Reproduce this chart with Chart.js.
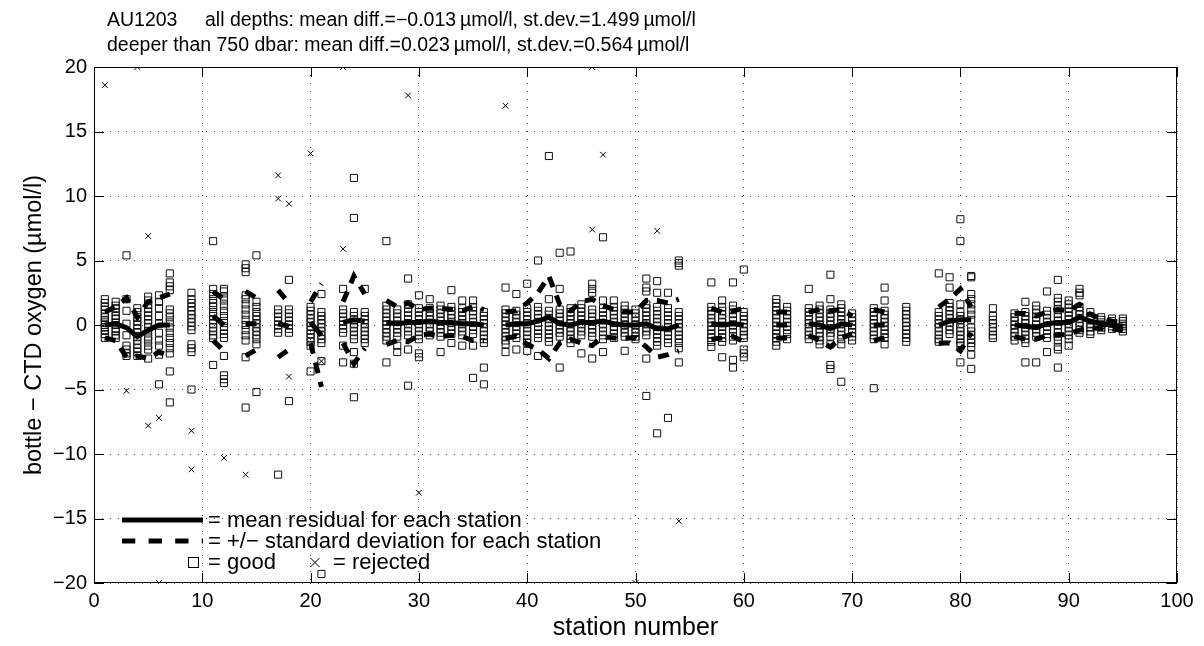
<!DOCTYPE html>
<html><head><meta charset="utf-8">
<style>html,body{margin:0;padding:0;background:#fff}canvas{display:block}</style>
<script src="https://cdn.jsdelivr.net/npm/chart.js@4.4.0/dist/chart.umd.min.js"></script>
</head><body>
<canvas id="c" width="1204" height="646"></canvas>
<script>
// ---- data ----
const stations = [1,2,3,4,5,6,7,9,11,12,14,15,17,18,20,21,23,24,25,27,28,29,30,31,32,33,34,35,36,38,39,40,41,42,43,44,45,46,47,48,49,50,51,52,53,54,57,58,59,60,63,64,66,67,68,69,70,72,73,75,78,79,80,81,83,85,86,87,88,89,90,91,92,93,94,95];
const meanResidual = [0.0,0.1,-0.2,-0.9,-0.4,0.0,0.0,-0.1,0.7,0.0,0.1,0.1,0.1,-0.1,0.2,-0.8,0.2,0.4,0.3,0.2,0.1,0.2,0.2,0.3,0.2,0.2,0.1,0.1,0.0,0.0,0.1,0.1,0.3,0.6,0.1,0.0,0.2,0.2,0.3,0.1,0.0,0.0,0.1,-0.3,-0.3,0.0,0.1,0.0,0.1,0.0,0.0,0.0,0.1,0.0,-0.3,0.1,0.0,0.0,0.0,0.0,0.0,0.3,0.4,0.4,0.0,0.0,-0.1,-0.2,0.1,0.2,0.2,0.6,0.3,0.1,0.0,-0.1];
const stdDev = [1.0,1.3,2.3,1.5,2.2,2.1,2.4,1.9,1.9,2.0,2.5,2.0,2.6,1.8,1.6,4.0,1.6,3.4,2.1,1.7,1.3,1.5,1.0,1.0,1.1,1.0,1.0,1.3,1.2,1.0,1.0,1.6,2.2,3.2,1.5,1.1,1.6,1.8,1.2,1.1,1.0,1.0,1.8,2.2,2.0,2.0,1.2,1.0,1.0,1.3,1.0,1.0,0.9,1.2,1.4,1.1,0.7,1.2,1.0,0.9,1.4,1.7,2.4,1.0,0.8,0.9,1.0,0.9,0.9,1.0,0.9,1.0,0.5,0.4,0.3,0.3];
const goodValues = [
 [2.0,1.7,1.4,1.2,0.9,0.6,0.4,0.2,0.0,-0.2,-0.4,-0.7,-1.0],
 [1.8,1.5,1.3,1.0,0.7,0.5,0.2,0.0,-0.3,-0.5,-0.8,-1.0],
 [5.4,2.0,1.1,0.1,-0.8,-1.6,-1.9,-2.2,-2.4],
 [1.3,1.0,0.6,0.3,0.0,-0.3,-0.6,-0.9,-1.2,-1.5,-1.8,-2.1,-2.4],
 [2.2,1.9,1.6,1.3,1.0,0.7,0.4,0.1,-0.2,-0.5,-0.9,-1.2,-1.6,-1.9,-2.6],
 [2.3,1.8,1.3,0.7,0.1,-0.6,-1.2,-1.6,-2.3,-4.6],
 [4.0,3.3,3.0,2.7,1.2,0.9,0.6,0.2,-0.2,-0.6,-1.0,-1.4,-1.8,-2.2,-3.6,-6.0],
 [2.5,2.0,1.7,1.4,1.1,0.8,0.5,0.2,-0.1,-0.4,-1.5,-1.8,-2.1,-5.0],
 [6.5,2.8,2.4,2.0,1.7,1.4,1.0,0.7,0.4,0.1,-0.2,-0.5,-0.8,-1.0,-3.1],
 [2.8,2.6,2.2,1.9,1.5,1.1,0.7,0.3,-0.1,-0.4,-0.7,-1.0,-2.4,-3.9,-4.2,-4.5],
 [4.7,4.4,4.1,2.3,2.0,1.6,1.2,0.8,0.4,0.0,-0.4,-0.8,-1.2,-2.5,-6.4],
 [5.4,1.8,1.4,1.0,0.7,0.4,0.1,-0.2,-0.5,-0.8,-1.1,-1.5,-5.2],
 [1.2,0.9,0.6,0.3,0.0,-0.3,-0.6,-11.6],
 [3.5,1.2,0.9,0.6,0.3,0.0,-0.3,-0.6,-5.9],
 [1.4,1.1,0.8,0.5,0.2,-0.1,-0.4,-0.7,-1.0,-1.3,-1.6,-3.6],
 [2.4,1.0,0.7,0.4,0.1,-0.2,-0.5,-0.8,-1.1,-1.4,-2.8,-19.3],
 [2.8,1.2,0.9,0.6,0.3,0.0,-0.3,-0.6,-1.6,-2.9],
 [11.4,8.3,1.0,0.7,0.4,0.1,-0.2,-0.5,-0.8,-1.1,-2.1,-3.0,-5.6],
 [2.8,1.0,0.7,0.4,0.1,-0.2,-0.5,-0.8,-1.1,-1.4],
 [6.5,1.5,1.2,0.9,0.6,0.3,0.0,-0.3,-0.6,-0.9,-1.2,-2.9],
 [1.2,0.9,0.6,0.3,0.0,-0.3,-0.6,-0.9,-1.6,-2.1],
 [3.6,1.6,1.3,1.0,0.7,0.4,0.1,-0.2,-0.5,-0.8,-1.9,-4.7],
 [2.3,1.3,1.0,0.7,0.4,0.1,-0.2,-0.5,-0.8,-1.1,-2.2,-2.5],
 [2.0,1.3,1.0,0.7,0.4,0.1,-0.2,-0.5,-0.8],
 [1.5,1.2,0.9,0.6,0.3,0.0,-0.3,-0.6,-0.9,-2.1],
 [2.7,1.4,1.1,0.8,0.5,0.2,-0.1,-0.4,-0.7,-1.4],
 [1.9,1.3,1.0,0.7,0.4,0.1,-0.2,-0.5,-0.8,-1.6],
 [1.9,1.4,1.1,0.8,0.5,0.2,-0.1,-0.4,-0.7,-1.6,-4.1],
 [1.0,0.7,0.4,0.1,-0.2,-0.5,-0.8,-1.1,-1.4,-3.3,-4.6],
 [2.9,1.2,0.9,0.6,0.3,0.0,-0.3,-0.6,-0.9,-1.2,-1.5,-2.1],
 [2.4,1.1,0.8,0.5,0.2,-0.1,-0.4,-0.7,-1.0,-1.9],
 [3.2,1.3,1.0,0.7,0.4,0.1,-0.2,-0.5,-0.8,-1.1,-1.4,-2.0],
 [5.0,1.4,1.1,0.8,0.5,0.2,-0.1,-0.4,-0.7,-1.0,-2.4],
 [13.1,2.0,1.1,0.8,0.5,0.2,-0.1,-0.4,-0.7,-1.0,-1.3],
 [5.6,2.8,1.2,0.9,0.6,0.3,0.0,-0.3,-0.6,-0.9,-3.3],
 [5.7,1.3,1.0,0.7,0.4,0.1,-0.2,-0.5,-0.8,-1.1,-1.4],
 [1.6,1.3,1.0,0.7,0.4,0.1,-0.2,-0.5,-0.8,-2.2],
 [3.2,2.8,2.5,1.2,0.9,0.6,0.3,0.0,-0.3,-0.6,-0.9,-2.6],
 [6.8,1.9,1.3,1.0,0.7,0.4,0.1,-0.2,-0.5,-0.8,-1.1,-2.1],
 [1.9,1.4,1.1,0.8,0.5,0.2,-0.1,-0.4,-0.7,-1.0],
 [1.5,1.2,0.9,0.6,0.3,0.0,-0.3,-0.6,-0.9,-2.0],
 [1.2,0.9,0.6,0.3,0.0,-0.3,-0.6,-0.9,-1.1],
 [3.6,2.9,2.6,1.6,1.3,1.0,0.7,0.4,0.1,-0.2,-0.5,-0.8,-2.6,-5.5],
 [3.4,2.5,1.4,1.1,0.8,0.5,0.2,-0.1,-0.4,-0.7,-1.0,-1.3,-1.6,-8.4],
 [2.5,1.3,1.0,0.7,0.4,0.1,-0.2,-0.5,-0.8,-1.1,-1.4,-7.2],
 [5.0,4.8,4.6,1.0,0.7,0.4,0.1,-0.2,-0.5,-0.8,-1.1,-1.4,-1.8,-2.9],
 [3.3,1.4,1.1,0.8,0.5,0.2,-0.1,-0.4,-0.7,-1.0,-1.3,-1.7],
 [1.9,1.4,1.1,0.8,0.5,0.2,-0.1,-0.4,-0.7,-1.0,-1.3,-2.5],
 [3.3,1.5,1.2,0.9,0.6,0.3,0.0,-0.3,-0.6,-0.9,-1.2,-2.7,-3.3],
 [4.3,1.0,0.7,0.4,0.1,-0.2,-0.5,-0.8,-1.0,-1.9,-2.2,-2.5],
 [2.0,1.7,1.4,1.1,0.8,0.5,0.2,-0.1,-0.4,-0.7,-1.0,-1.3,-1.6],
 [1.4,1.1,0.8,0.5,0.2,-0.1,-0.4,-0.7,-1.1],
 [2.8,1.3,1.0,0.7,0.4,0.1,-0.2,-0.5,-0.8,-1.1],
 [1.5,1.2,0.9,0.6,0.3,0.0,-0.3,-0.6,-0.9,-1.2,-1.5],
 [3.9,2.0,1.2,0.9,0.6,0.3,0.0,-0.3,-0.6,-0.9,-1.5,-3.1,-3.4],
 [1.6,1.3,1.0,0.7,0.4,0.1,-0.2,-0.5,-0.8,-1.1,-1.5,-4.4],
 [0.9,0.6,0.3,0.0,-0.3,-0.6,-0.9,-1.2],
 [1.3,1.0,0.7,0.4,0.1,-0.2,-0.5,-0.8,-1.1,-4.9],
 [2.9,1.9,1.1,0.8,0.5,0.2,-0.1,-0.4,-0.7,-1.0,-1.5],
 [1.4,1.1,0.8,0.5,0.2,-0.1,-0.4,-0.7,-1.0,-1.3],
 [4.0,1.0,0.7,0.4,0.1,-0.2,-0.5,-0.8,-1.1,-1.3],
 [3.7,2.9,1.7,1.4,1.1,0.8,0.5,0.2,-0.1,-0.4,-0.7],
 [8.2,6.5,1.6,1.0,0.7,0.4,0.1,-0.2,-0.5,-0.8,-1.1,-1.4,-1.6,-2.9],
 [3.8,3.7,2.4,2.0,1.6,1.2,0.8,0.4,-0.2,-0.5,-0.8,-1.1,-1.4,-1.7,-2.3,-3.4],
 [1.3,0.7,0.4,0.1,-0.2,-0.5,-0.8,-1.0],
 [0.9,0.6,0.3,0.0,-0.3,-0.6,-0.9,-1.2],
 [1.8,1.0,0.7,0.4,0.1,-0.2,-0.5,-0.8,-1.1,-1.4,-2.9],
 [1.5,1.2,0.9,0.6,0.3,0.0,-0.3,-0.6,-0.9,-2.9],
 [2.6,1.1,0.8,0.5,0.2,-0.1,-0.4,-0.7,-1.0,-2.1],
 [3.5,2.1,1.8,1.5,1.2,0.9,0.6,0.3,0.0,-0.3,-0.6,-0.9,-1.2,-1.7,-1.9,-3.3],
 [1.9,1.6,1.3,1.0,0.7,0.4,0.1,-0.2,-0.5,-0.8,-1.1,-1.6],
 [2.8,2.5,2.3,1.4,1.1,0.8,0.5,0.2,-0.1,-0.4,-0.6],
 [1.0,0.7,0.4,0.1,-0.2,-0.5,-0.7],
 [0.6,0.4,0.2,0.0,-0.2,-0.4],
 [0.5,0.3,0.1,-0.1,-0.3],
 [0.5,0.3,0.1,-0.1,-0.3,-0.5]
];
const rejectedStations = [1,4,3,5,5,6,6,9,9,12,14,17,17,18,18,20,21,23,23,29,30,38,46,46,47,50,52,54];
const rejectedValues = [18.6,20,-5.1,6.9,-7.8,-7.2,-20,-8.2,-11.2,-10.3,-11.6,11.6,9.8,9.4,-4.0,13.3,-2.8,20,5.9,17.8,-13.0,17.0,20,7.4,13.2,-20,7.3,-15.2];
const xTicks = [0,10,20,30,40,50,60,70,80,90,100];
const yTicks = [-20,-15,-10,-5,0,5,10,15,20];
const titleLine1a = 'AU1203';
const titleLine1b = 'all depths: mean diff.=\u22120.013\u2009\u00b5mol/l, st.dev.=1.499\u2009\u00b5mol/l';
const titleLine2 = 'deeper than 750 dbar: mean diff.=0.023\u2009\u00b5mol/l, st.dev.=0.564\u2009\u00b5mol/l';
const xLabel = 'station number';
const yLabel = 'bottle \u2212 CTD oxygen (\u00b5mol/l)';
const legendTexts = ['= mean residual for each station','= +/\u2212 standard deviation for each station','= good','= rejected'];

// ---- build ----
const FONT = '"Liberation Sans", Arial, Helvetica, sans-serif';
const goodPts = [];
stations.forEach((s,i)=>goodValues[i].forEach(v=>goodPts.push({x:s,y:v})));
const rejPts = rejectedStations.map((s,i)=>({x:s,y:rejectedValues[i]}));
function lineData(fn){
  const arr=[];
  stations.forEach((s,i)=>{
    if(i>0 && s-stations[i-1]>1) arr.push({x:s-0.5,y:null});
    arr.push({x:s,y:fn(i)});
  });
  return arr;
}
const meanPts = lineData(i=>meanResidual[i]);
const upPts = lineData(i=>+(meanResidual[i]+stdDev[i]).toFixed(2));
const loPts = lineData(i=>+(meanResidual[i]-stdDev[i]).toFixed(2));

const fmt = v => String(v).replace('-','\u2212');

const framePlugin = {
  id:'frame',
  afterDatasetsDraw(chart){
    const {ctx, chartArea:{left,right,top,bottom}, scales:{x,y}} = chart;
    ctx.save();
    ctx.strokeStyle='#000'; ctx.lineWidth=1; ctx.setLineDash([]);
    ctx.strokeRect(left+0.5, top+0.5, right-left-1, bottom-top-1);
    ctx.beginPath();
    xTicks.forEach(v=>{const p=Math.round(x.getPixelForValue(v))+0.5;
      ctx.moveTo(p,bottom); ctx.lineTo(p,bottom-10); ctx.moveTo(p,top); ctx.lineTo(p,top+10);});
    yTicks.forEach(v=>{const p=Math.round(y.getPixelForValue(v))+0.5;
      ctx.moveTo(left,p); ctx.lineTo(left+10,p); ctx.moveTo(right,p); ctx.lineTo(right-10,p);});
    ctx.stroke();
    ctx.restore();
  },
  afterDraw(chart){
    const {ctx, chartArea:{left,right,top,bottom}} = chart;
    ctx.save();
    ctx.fillStyle='#000'; ctx.textBaseline='middle';
    ctx.font='19.5px '+FONT; ctx.textAlign='left';
    ctx.fillText(titleLine1a,107,21);
    ctx.fillText(titleLine1b,205,21);
    ctx.fillText(titleLine2,107,46);
    ctx.font='25px '+FONT; ctx.textAlign='center';
    ctx.fillText(xLabel,(left+right)/2,628);
    ctx.font='23.5px '+FONT;
    ctx.save(); ctx.translate(35,(top+bottom)/2); ctx.rotate(-Math.PI/2);
    ctx.fillText(yLabel,0,0); ctx.restore();
    // legend
    ctx.strokeStyle='#000';
    ctx.lineWidth=5; ctx.setLineDash([]);
    ctx.beginPath(); ctx.moveTo(122,520); ctx.lineTo(203,520); ctx.stroke();
    ctx.setLineDash([13.3,13.3]);
    ctx.beginPath(); ctx.moveTo(122,541); ctx.lineTo(203,541); ctx.stroke();
    ctx.setLineDash([]); ctx.lineWidth=1;
    ctx.strokeRect(188.5,557.5,10,10);
    ctx.beginPath(); ctx.moveTo(310.5,558); ctx.lineTo(319.5,567); ctx.moveTo(319.5,558); ctx.lineTo(310.5,567); ctx.stroke();
    ctx.font='22px '+FONT; ctx.textAlign='left';
    ctx.fillText(legendTexts[0],208,521);
    ctx.fillText(legendTexts[1],208,542);
    ctx.fillText(legendTexts[2],208,563);
    ctx.fillText(legendTexts[3],333,563);
    ctx.restore();
  }
};

new Chart(document.getElementById('c'), {
  type:'scatter',
  data:{datasets:[
    {type:'line',data:meanPts,borderColor:'#000',borderWidth:5,pointRadius:0,spanGaps:false,fill:false,tension:0,order:0,borderCapStyle:'butt'},
    {type:'line',data:upPts,borderColor:'#000',borderWidth:5,borderDash:[11,9],pointRadius:0,spanGaps:false,fill:false,tension:0,order:0,borderCapStyle:'butt'},
    {type:'line',data:loPts,borderColor:'#000',borderWidth:5,borderDash:[11,9],pointRadius:0,spanGaps:false,fill:false,tension:0,order:0,borderCapStyle:'butt'},
    {data:goodPts,pointStyle:'rect',pointRadius:5,borderColor:'#111',borderWidth:1,backgroundColor:'rgba(0,0,0,0)',order:1},
    {data:rejPts,pointStyle:'crossRot',pointRadius:4,borderColor:'#000',borderWidth:1,backgroundColor:'rgba(0,0,0,0)',order:1}
  ]},
  options:{
    responsive:false, animation:false, devicePixelRatio:1,
    layout:{padding:{top:67,right:27,left:0,bottom:0}},
    plugins:{legend:{display:false},tooltip:{enabled:false}},
    events:[],
    scales:{
      x:{type:'linear',min:0,max:100,
         afterFit(s){s.height=63;},
         afterBuildTicks(s){s.ticks=xTicks.map(v=>({value:v}));},
         ticks:{color:'#000',font:{size:20,family:FONT},padding:6,maxRotation:0,callback:fmt},
         grid:{color:'#444',lineWidth:1,drawTicks:false},
         border:{display:false,dash:[1,7]}},
      y:{type:'linear',min:-20,max:20,
         afterFit(s){s.width=94;},
         afterBuildTicks(s){s.ticks=yTicks.map(v=>({value:v}));},
         ticks:{color:'#000',font:{size:20,family:FONT},padding:7,callback:fmt},
         grid:{color:'#444',lineWidth:1,drawTicks:false},
         border:{display:false,dash:[1,7]}}
    }
  },
  plugins:[framePlugin]
});
</script>
</body></html>
